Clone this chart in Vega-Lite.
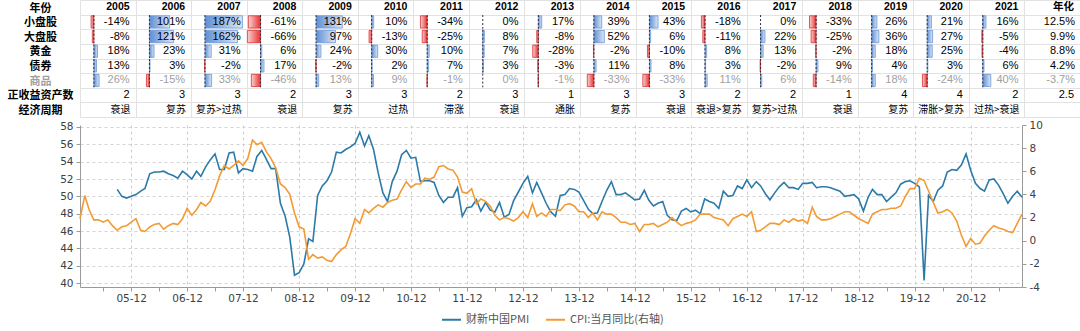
{
  "$schema": "https://vega.github.io/schema/vega-lite/v6.json",
  "padding": 0,
  "background": "white",
  "bounds": "flush",
  "spacing": 8,
  "config": {
    "view": {"stroke": null},
    "locale": {"number": {"decimal": ".", "thousands": ",", "grouping": [3], "currency": ["", ""], "minus": "-"}}
  },
  "datasets": {
    "tbl": [
      {"y":"2005","s":-0.14,"l":-0.08,"g":0.18,"b":0.13,"m":0.26,"n":2,"t":"衰退"},
      {"y":"2006","s":1.01,"l":1.21,"g":0.23,"b":0.03,"m":-0.15,"n":3,"t":"复苏"},
      {"y":"2007","s":1.87,"l":1.62,"g":0.31,"b":-0.02,"m":0.33,"n":3,"t":"复苏>过热"},
      {"y":"2008","s":-0.61,"l":-0.66,"g":0.06,"b":0.17,"m":-0.46,"n":2,"t":"衰退"},
      {"y":"2009","s":1.31,"l":0.97,"g":0.24,"b":-0.02,"m":0.13,"n":3,"t":"复苏"},
      {"y":"2010","s":0.10,"l":-0.13,"g":0.30,"b":0.02,"m":0.09,"n":3,"t":"过热"},
      {"y":"2011","s":-0.34,"l":-0.25,"g":0.10,"b":0.07,"m":-0.01,"n":2,"t":"滞涨"},
      {"y":"2012","s":0.00,"l":0.08,"g":0.07,"b":0.03,"m":0.00,"n":3,"t":"衰退"},
      {"y":"2013","s":0.17,"l":-0.08,"g":-0.28,"b":-0.03,"m":-0.01,"n":1,"t":"通胀"},
      {"y":"2014","s":0.39,"l":0.52,"g":-0.02,"b":0.11,"m":-0.33,"n":3,"t":"复苏"},
      {"y":"2015","s":0.43,"l":0.06,"g":-0.10,"b":0.08,"m":-0.33,"n":3,"t":"衰退"},
      {"y":"2016","s":-0.18,"l":-0.11,"g":0.08,"b":0.03,"m":0.11,"n":2,"t":"衰退>复苏"},
      {"y":"2017","s":0.00,"l":0.22,"g":0.13,"b":-0.02,"m":0.06,"n":2,"t":"复苏>过热"},
      {"y":"2018","s":-0.33,"l":-0.25,"g":-0.02,"b":0.09,"m":-0.14,"n":1,"t":"衰退"},
      {"y":"2019","s":0.26,"l":0.36,"g":0.18,"b":0.04,"m":0.18,"n":4,"t":"复苏"},
      {"y":"2020","s":0.21,"l":0.27,"g":0.25,"b":0.03,"m":-0.24,"n":4,"t":"滞胀>复苏"},
      {"y":"2021","s":0.16,"l":-0.05,"g":-0.04,"b":0.06,"m":0.40,"n":2,"t":"过热>衰退"},
      {"y":"年化","s":0.125,"l":0.099,"g":0.088,"b":0.042,"m":-0.037,"n":2.5,"t":""}
    ],
    "macro": [
      {"d":"2005-01-01","cpi":1.9},{"d":"2005-02-01","cpi":3.9},{"d":"2005-03-01","cpi":2.7},{"d":"2005-04-01","cpi":1.8},
      {"d":"2005-05-01","cpi":1.8},{"d":"2005-06-01","cpi":1.6},{"d":"2005-07-01","cpi":1.8},{"d":"2005-08-01","cpi":1.3},
      {"d":"2005-09-01","pmi":50.8,"cpi":0.9},{"d":"2005-10-01","pmi":50.0,"cpi":1.2},{"d":"2005-11-01","pmi":49.8,"cpi":1.3},{"d":"2005-12-01","pmi":50.0,"cpi":1.6},
      {"d":"2006-01-01","pmi":50.2,"cpi":1.9},{"d":"2006-02-01","pmi":50.6,"cpi":0.9},{"d":"2006-03-01","pmi":50.9,"cpi":0.8},{"d":"2006-04-01","pmi":52.6,"cpi":1.2},
      {"d":"2006-05-01","pmi":52.8,"cpi":1.4},{"d":"2006-06-01","pmi":52.8,"cpi":1.5},{"d":"2006-07-01","pmi":52.9,"cpi":1.0},{"d":"2006-08-01","pmi":52.6,"cpi":1.3},
      {"d":"2006-09-01","pmi":52.4,"cpi":1.5},{"d":"2006-10-01","pmi":52.1,"cpi":1.4},{"d":"2006-11-01","pmi":52.9,"cpi":1.9},{"d":"2006-12-01","pmi":52.5,"cpi":2.8},
      {"d":"2007-01-01","pmi":52.0,"cpi":2.2},{"d":"2007-02-01","pmi":52.9,"cpi":2.7},{"d":"2007-03-01","pmi":52.3,"cpi":3.3},{"d":"2007-04-01","pmi":53.4,"cpi":3.0},
      {"d":"2007-05-01","pmi":54.2,"cpi":3.4},{"d":"2007-06-01","pmi":54.9,"cpi":4.4},{"d":"2007-07-01","pmi":53.1,"cpi":5.6},{"d":"2007-08-01","pmi":53.1,"cpi":6.5},
      {"d":"2007-09-01","pmi":55.0,"cpi":6.2},{"d":"2007-10-01","pmi":55.1,"cpi":6.5},{"d":"2007-11-01","pmi":52.7,"cpi":6.9},{"d":"2007-12-01","pmi":53.2,"cpi":6.5},
      {"d":"2008-01-01","pmi":53.1,"cpi":7.1},{"d":"2008-02-01","pmi":52.9,"cpi":8.7},{"d":"2008-03-01","pmi":54.6,"cpi":8.3},{"d":"2008-04-01","pmi":55.3,"cpi":8.5},
      {"d":"2008-05-01","pmi":54.3,"cpi":7.7},{"d":"2008-06-01","pmi":53.2,"cpi":7.1},{"d":"2008-07-01","pmi":53.2,"cpi":6.3},{"d":"2008-08-01","pmi":49.2,"cpi":4.9},
      {"d":"2008-09-01","pmi":47.7,"cpi":4.6},{"d":"2008-10-01","pmi":45.3,"cpi":4.0},{"d":"2008-11-01","pmi":40.9,"cpi":2.4},{"d":"2008-12-01","pmi":41.2,"cpi":1.2},
      {"d":"2009-01-01","pmi":42.2,"cpi":1.0},{"d":"2009-02-01","pmi":45.1,"cpi":-1.6},{"d":"2009-03-01","pmi":44.8,"cpi":-1.2},{"d":"2009-04-01","pmi":50.1,"cpi":-1.5},
      {"d":"2009-05-01","pmi":51.2,"cpi":-1.4},{"d":"2009-06-01","pmi":51.8,"cpi":-1.7},{"d":"2009-07-01","pmi":52.8,"cpi":-1.8},{"d":"2009-08-01","pmi":55.1,"cpi":-1.2},
      {"d":"2009-09-01","pmi":55.0,"cpi":-0.8},{"d":"2009-10-01","pmi":55.4,"cpi":-0.5},{"d":"2009-11-01","pmi":55.7,"cpi":0.6},{"d":"2009-12-01","pmi":56.1,"cpi":1.9},
      {"d":"2010-01-01","pmi":57.4,"cpi":1.5},{"d":"2010-02-01","pmi":55.8,"cpi":2.7},{"d":"2010-03-01","pmi":57.0,"cpi":2.4},{"d":"2010-04-01","pmi":55.4,"cpi":2.8},
      {"d":"2010-05-01","pmi":52.7,"cpi":3.1},{"d":"2010-06-01","pmi":50.4,"cpi":2.9},{"d":"2010-07-01","pmi":49.4,"cpi":3.3},{"d":"2010-08-01","pmi":51.7,"cpi":3.5},
      {"d":"2010-09-01","pmi":52.9,"cpi":3.6},{"d":"2010-10-01","pmi":54.8,"cpi":4.4},{"d":"2010-11-01","pmi":55.3,"cpi":5.1},{"d":"2010-12-01","pmi":54.4,"cpi":4.6},
      {"d":"2011-01-01","pmi":54.5,"cpi":4.9},{"d":"2011-02-01","pmi":51.7,"cpi":4.9},{"d":"2011-03-01","pmi":51.8,"cpi":5.4},{"d":"2011-04-01","pmi":51.8,"cpi":5.3},
      {"d":"2011-05-01","pmi":51.6,"cpi":5.5},{"d":"2011-06-01","pmi":50.1,"cpi":6.4},{"d":"2011-07-01","pmi":49.3,"cpi":6.5},{"d":"2011-08-01","pmi":49.9,"cpi":6.2},
      {"d":"2011-09-01","pmi":49.9,"cpi":6.1},{"d":"2011-10-01","pmi":51.0,"cpi":5.5},{"d":"2011-11-01","pmi":47.7,"cpi":4.2},{"d":"2011-12-01","pmi":48.7,"cpi":4.1},
      {"d":"2012-01-01","pmi":48.8,"cpi":4.5},{"d":"2012-02-01","pmi":49.6,"cpi":3.2},{"d":"2012-03-01","pmi":48.3,"cpi":3.6},{"d":"2012-04-01","pmi":49.3,"cpi":3.4},
      {"d":"2012-05-01","pmi":48.4,"cpi":3.0},{"d":"2012-06-01","pmi":48.2,"cpi":2.2},{"d":"2012-07-01","pmi":49.3,"cpi":1.8},{"d":"2012-08-01","pmi":47.6,"cpi":2.0},
      {"d":"2012-09-01","pmi":47.9,"cpi":1.9},{"d":"2012-10-01","pmi":49.5,"cpi":1.7},{"d":"2012-11-01","pmi":50.5,"cpi":2.0},{"d":"2012-12-01","pmi":51.5,"cpi":2.5},
      {"d":"2013-01-01","pmi":52.3,"cpi":2.0},{"d":"2013-02-01","pmi":50.4,"cpi":3.2},{"d":"2013-03-01","pmi":51.6,"cpi":2.1},{"d":"2013-04-01","pmi":50.4,"cpi":2.4},
      {"d":"2013-05-01","pmi":49.2,"cpi":2.1},{"d":"2013-06-01","pmi":48.2,"cpi":2.7},{"d":"2013-07-01","pmi":47.7,"cpi":2.7},{"d":"2013-08-01","pmi":50.1,"cpi":2.6},
      {"d":"2013-09-01","pmi":50.2,"cpi":3.1},{"d":"2013-10-01","pmi":50.9,"cpi":3.2},{"d":"2013-11-01","pmi":50.8,"cpi":3.0},{"d":"2013-12-01","pmi":50.5,"cpi":2.5},
      {"d":"2014-01-01","pmi":49.5,"cpi":2.5},{"d":"2014-02-01","pmi":48.5,"cpi":2.0},{"d":"2014-03-01","pmi":48.0,"cpi":2.4},{"d":"2014-04-01","pmi":48.1,"cpi":1.8},
      {"d":"2014-05-01","pmi":49.4,"cpi":2.5},{"d":"2014-06-01","pmi":50.7,"cpi":2.3},{"d":"2014-07-01","pmi":51.7,"cpi":2.3},{"d":"2014-08-01","pmi":50.2,"cpi":2.0},
      {"d":"2014-09-01","pmi":50.2,"cpi":1.6},{"d":"2014-10-01","pmi":50.4,"cpi":1.6},{"d":"2014-11-01","pmi":50.0,"cpi":1.4},{"d":"2014-12-01","pmi":49.6,"cpi":1.5},
      {"d":"2015-01-01","pmi":49.7,"cpi":0.8},{"d":"2015-02-01","pmi":50.7,"cpi":1.4},{"d":"2015-03-01","pmi":49.6,"cpi":1.4},{"d":"2015-04-01","pmi":48.9,"cpi":1.5},
      {"d":"2015-05-01","pmi":49.2,"cpi":1.2},{"d":"2015-06-01","pmi":49.4,"cpi":1.4},{"d":"2015-07-01","pmi":47.8,"cpi":1.6},{"d":"2015-08-01","pmi":47.3,"cpi":2.0},
      {"d":"2015-09-01","pmi":47.2,"cpi":1.6},{"d":"2015-10-01","pmi":48.3,"cpi":1.3},{"d":"2015-11-01","pmi":48.6,"cpi":1.5},{"d":"2015-12-01","pmi":48.2,"cpi":1.6},
      {"d":"2016-01-01","pmi":48.4,"cpi":1.8},{"d":"2016-02-01","pmi":48.0,"cpi":2.3},{"d":"2016-03-01","pmi":49.7,"cpi":2.3},{"d":"2016-04-01","pmi":49.4,"cpi":2.3},
      {"d":"2016-05-01","pmi":49.2,"cpi":2.0},{"d":"2016-06-01","pmi":48.6,"cpi":1.9},{"d":"2016-07-01","pmi":50.6,"cpi":1.8},{"d":"2016-08-01","pmi":50.0,"cpi":1.3},
      {"d":"2016-09-01","pmi":50.1,"cpi":1.9},{"d":"2016-10-01","pmi":51.2,"cpi":2.1},{"d":"2016-11-01","pmi":50.9,"cpi":2.3},{"d":"2016-12-01","pmi":51.9,"cpi":2.1},
      {"d":"2017-01-01","pmi":51.0,"cpi":2.5},{"d":"2017-02-01","pmi":51.7,"cpi":0.8},{"d":"2017-03-01","pmi":51.2,"cpi":0.9},{"d":"2017-04-01","pmi":50.3,"cpi":1.2},
      {"d":"2017-05-01","pmi":49.6,"cpi":1.5},{"d":"2017-06-01","pmi":50.4,"cpi":1.5},{"d":"2017-07-01","pmi":51.1,"cpi":1.4},{"d":"2017-08-01","pmi":51.6,"cpi":1.8},
      {"d":"2017-09-01","pmi":51.0,"cpi":1.6},{"d":"2017-10-01","pmi":51.0,"cpi":1.9},{"d":"2017-11-01","pmi":50.8,"cpi":1.7},{"d":"2017-12-01","pmi":51.5,"cpi":1.8},
      {"d":"2018-01-01","pmi":51.5,"cpi":1.5},{"d":"2018-02-01","pmi":51.6,"cpi":2.9},{"d":"2018-03-01","pmi":51.0,"cpi":2.1},{"d":"2018-04-01","pmi":51.1,"cpi":1.8},
      {"d":"2018-05-01","pmi":51.1,"cpi":1.8},{"d":"2018-06-01","pmi":51.0,"cpi":1.9},{"d":"2018-07-01","pmi":50.8,"cpi":2.1},{"d":"2018-08-01","pmi":50.6,"cpi":2.3},
      {"d":"2018-09-01","pmi":50.0,"cpi":2.5},{"d":"2018-10-01","pmi":50.1,"cpi":2.5},{"d":"2018-11-01","pmi":50.2,"cpi":2.2},{"d":"2018-12-01","pmi":49.7,"cpi":1.9},
      {"d":"2019-01-01","pmi":48.3,"cpi":1.7},{"d":"2019-02-01","pmi":49.9,"cpi":1.5},{"d":"2019-03-01","pmi":50.8,"cpi":2.3},{"d":"2019-04-01","pmi":50.2,"cpi":2.5},
      {"d":"2019-05-01","pmi":50.2,"cpi":2.7},{"d":"2019-06-01","pmi":49.4,"cpi":2.7},{"d":"2019-07-01","pmi":49.9,"cpi":2.8},{"d":"2019-08-01","pmi":50.4,"cpi":2.8},
      {"d":"2019-09-01","pmi":51.4,"cpi":3.0},{"d":"2019-10-01","pmi":51.7,"cpi":3.8},{"d":"2019-11-01","pmi":51.8,"cpi":4.5},{"d":"2019-12-01","pmi":51.5,"cpi":4.5},
      {"d":"2020-01-01","pmi":51.1,"cpi":5.4},{"d":"2020-02-01","pmi":40.3,"cpi":5.2},{"d":"2020-03-01","pmi":50.1,"cpi":4.3},{"d":"2020-04-01","pmi":49.4,"cpi":3.3},
      {"d":"2020-05-01","pmi":50.7,"cpi":2.4},{"d":"2020-06-01","pmi":51.2,"cpi":2.5},{"d":"2020-07-01","pmi":52.8,"cpi":2.7},{"d":"2020-08-01","pmi":53.1,"cpi":2.4},
      {"d":"2020-09-01","pmi":53.0,"cpi":1.7},{"d":"2020-10-01","pmi":53.6,"cpi":0.5},{"d":"2020-11-01","pmi":54.9,"cpi":-0.5},{"d":"2020-12-01","pmi":53.0,"cpi":0.2},
      {"d":"2021-01-01","pmi":51.5,"cpi":-0.3},{"d":"2021-02-01","pmi":50.9,"cpi":-0.2},{"d":"2021-03-01","pmi":50.6,"cpi":0.4},{"d":"2021-04-01","pmi":51.9,"cpi":0.9},
      {"d":"2021-05-01","pmi":52.0,"cpi":1.3},{"d":"2021-06-01","pmi":51.3,"cpi":1.1},{"d":"2021-07-01","pmi":50.3,"cpi":1.0},{"d":"2021-08-01","pmi":49.2,"cpi":0.8},
      {"d":"2021-09-01","pmi":50.0,"cpi":0.7},{"d":"2021-10-01","pmi":50.6,"cpi":1.5},{"d":"2021-11-01","pmi":49.9,"cpi":2.3}
    ]
  },
  "vconcat": [
    {
      "width": 1000,
      "height": 117,
      "data": {"name": "tbl"},
      "transform": [
        {"calculate": "indexof(['2005','2006','2007','2008','2009','2010','2011','2012','2013','2014','2015','2016','2017','2018','2019','2020','2021','年化'], datum.y)", "as": "c"}
      ],
      "encoding": {
        "x": {
          "field": "px", "type": "quantitative",
          "scale": {"domain": [0, 18], "nice": false, "zero": false},
          "axis": {"orient": "top", "values": [0,1,2,3,4,5,6,7,8,9,10,11,12,13,14,15,16,17,18], "title": null, "labels": false, "ticks": false, "domain": false, "grid": true, "gridColor": "#e2e2e2"}
        },
        "y": {
          "field": "py", "type": "quantitative",
          "scale": {"domain": [0, 8], "reverse": true, "nice": false, "zero": false},
          "axis": {
            "values": [0,1,2,3,4,5,6,7,8], "title": null, "domain": false, "ticks": false, "tickSize": 0,
            "grid": true, "gridColor": "#e2e2e2",
            "labelExpr": "datum.value < 8 ? ['年份','小盘股','大盘股','黄金','债券','商品','正收益资产数','经济周期'][datum.value] : ''",
            "labelOffset": 8, "labelAlign": "center", "labelBaseline": "middle", "labelPadding": 40,
            "labelFont": "Noto Sans CJK SC", "labelFontWeight": "bold", "labelFontSize": 11,
            "labelColor": {"condition": {"test": "datum.value == 5", "value": "#a0a0a0"}, "value": "#000000"},
            "labelOverlap": false, "labelFlush": false, "labelBound": false,
            "minExtent": 80, "maxExtent": 80
          }
        }
      },
      "layer": [
        {
          "transform": [
            {"filter": "datum.y != '年化'"},
            {"fold": ["s", "l", "g", "b", "m"], "as": ["k", "v"]},
            {"filter": "datum.v > 0"},
            {"calculate": "indexof(['y','s','l','g','b','m','n','t'], datum.k)", "as": "r"},
            {"calculate": "datum.c + 0.25", "as": "px"},
            {"calculate": "datum.c + 0.25 + datum.v * 0.36", "as": "px2"},
            {"calculate": "datum.r + 0.08", "as": "py"},
            {"calculate": "datum.r + 0.92", "as": "py2"}
          ],
          "mark": {
            "type": "rect",
            "fill": {"gradient": "linear", "x1": 0, "y1": 0, "x2": 1, "y2": 0, "stops": [{"offset": 0, "color": "#5f8fd4"}, {"offset": 1, "color": "#dde7f6"}]},
            "stroke": "#6b96d6", "strokeWidth": 0.8
          },
          "encoding": {"x2": {"field": "px2"}, "y2": {"field": "py2"}}
        },
        {
          "transform": [
            {"filter": "datum.y != '年化'"},
            {"fold": ["s", "l", "g", "b", "m"], "as": ["k", "v"]},
            {"filter": "datum.v < 0"},
            {"calculate": "indexof(['y','s','l','g','b','m','n','t'], datum.k)", "as": "r"},
            {"calculate": "datum.c + 0.25", "as": "px"},
            {"calculate": "datum.c + 0.25 + datum.v * 0.36", "as": "px2"},
            {"calculate": "datum.r + 0.08", "as": "py"},
            {"calculate": "datum.r + 0.92", "as": "py2"}
          ],
          "mark": {
            "type": "rect",
            "fill": {"gradient": "linear", "x1": 0, "y1": 0, "x2": 1, "y2": 0, "stops": [{"offset": 0, "color": "#f8d4d4"}, {"offset": 1, "color": "#e8302e"}]},
            "stroke": "#d83030", "strokeWidth": 0.8
          },
          "encoding": {"x2": {"field": "px2"}, "y2": {"field": "py2"}}
        },
        {
          "transform": [
            {"filter": "datum.y != '年化'"},
            {"fold": ["s", "l", "g", "b", "m"], "as": ["k", "v"]},
            {"calculate": "indexof(['y','s','l','g','b','m','n','t'], datum.k)", "as": "r"},
            {"calculate": "datum.c + 0.25", "as": "px"},
            {"calculate": "datum.r + 0.03", "as": "py"},
            {"calculate": "datum.r + 0.97", "as": "py2"}
          ],
          "mark": {"type": "rule", "color": "#2b2b3a", "strokeWidth": 1, "strokeDash": [2, 2]},
          "encoding": {"y2": {"field": "py2"}}
        },
        {
          "transform": [
            {"filter": "datum.y != '年化'"},
            {"fold": ["s", "l", "g", "b", "m"], "as": ["k", "v"]},
            {"calculate": "indexof(['y','s','l','g','b','m','n','t'], datum.k)", "as": "r"},
            {"calculate": "datum.c + 1", "as": "px"},
            {"calculate": "datum.r + 0.5", "as": "py"}
          ],
          "mark": {"type": "text", "align": "right", "baseline": "middle", "dx": -6, "font": "Liberation Sans", "fontSize": 11},
          "encoding": {
            "text": {"field": "v", "type": "quantitative", "format": ".0%"},
            "color": {"condition": {"test": "datum.k == 'm'", "value": "#a0a0a0"}, "value": "#000000"}
          }
        },
        {
          "transform": [
            {"filter": "datum.y == '年化'"},
            {"fold": ["s", "l", "g", "b", "m"], "as": ["k", "v"]},
            {"calculate": "indexof(['y','s','l','g','b','m','n','t'], datum.k)", "as": "r"},
            {"calculate": "datum.c + 1", "as": "px"},
            {"calculate": "datum.r + 0.5", "as": "py"}
          ],
          "mark": {"type": "text", "align": "right", "baseline": "middle", "dx": -5, "font": "Liberation Sans", "fontSize": 11},
          "encoding": {
            "text": {"field": "v", "type": "quantitative", "format": ".1%"},
            "color": {"condition": {"test": "datum.k == 'm'", "value": "#a0a0a0"}, "value": "#000000"}
          }
        },
        {
          "transform": [
            {"fold": ["y"], "as": ["k", "v"]},
            {"calculate": "indexof(['y','s','l','g','b','m','n','t'], datum.k)", "as": "r"},
            {"calculate": "datum.c + 1", "as": "px"},
            {"calculate": "datum.r + 0.5", "as": "py"}
          ],
          "mark": {"type": "text", "align": "right", "baseline": "middle", "dx": -6, "font": "Liberation Sans, Noto Sans CJK SC", "fontSize": 10.5, "fontWeight": "bold", "color": "#000000"},
          "encoding": {"text": {"field": "v", "type": "nominal"}}
        },
        {
          "transform": [
            {"fold": ["n"], "as": ["k", "v"]},
            {"calculate": "indexof(['y','s','l','g','b','m','n','t'], datum.k)", "as": "r"},
            {"calculate": "datum.c + 1", "as": "px"},
            {"calculate": "datum.r + 0.5", "as": "py"}
          ],
          "mark": {"type": "text", "align": "right", "baseline": "middle", "dx": -6, "font": "Liberation Sans", "fontSize": 11, "color": "#000000"},
          "encoding": {"text": {"field": "v", "type": "nominal"}}
        },
        {
          "transform": [
            {"fold": ["t"], "as": ["k", "v"]},
            {"filter": "datum.v != ''"},
            {"calculate": "indexof(['y','s','l','g','b','m','n','t'], datum.k)", "as": "r"},
            {"calculate": "datum.c + 1", "as": "px"},
            {"calculate": "datum.r + 0.5", "as": "py"}
          ],
          "mark": {"type": "text", "align": "right", "baseline": "middle", "dx": -5, "font": "Noto Sans CJK SC", "fontSize": 10, "color": "#000000"},
          "encoding": {"text": {"field": "v", "type": "nominal"}}
        }
      ]
    },
    {
      "width": 942,
      "height": 162,
      "data": {"name": "macro"},
      "layer": [
        {
          "mark": {"type": "line", "strokeWidth": 1.6},
          "encoding": {
            "x": {
              "field": "d", "type": "temporal",
              "scale": {"type": "utc", "domain": [{"year": 2005, "month": 1, "date": 1, "utc": true}, {"year": 2021, "month": 11, "date": 1, "utc": true}], "nice": false},
              "axis": {
                "title": null, "orient": "bottom",
                "values": [
                  {"year":2005,"month":12,"date":1,"utc":true},
                  {"year":2006,"month":12,"date":1,"utc":true},
                  {"year":2007,"month":12,"date":1,"utc":true},
                  {"year":2008,"month":12,"date":1,"utc":true},
                  {"year":2009,"month":12,"date":1,"utc":true},
                  {"year":2010,"month":12,"date":1,"utc":true},
                  {"year":2011,"month":12,"date":1,"utc":true},
                  {"year":2012,"month":12,"date":1,"utc":true},
                  {"year":2013,"month":12,"date":1,"utc":true},
                  {"year":2014,"month":12,"date":1,"utc":true},
                  {"year":2015,"month":12,"date":1,"utc":true},
                  {"year":2016,"month":12,"date":1,"utc":true},
                  {"year":2017,"month":12,"date":1,"utc":true},
                  {"year":2018,"month":12,"date":1,"utc":true},
                  {"year":2019,"month":12,"date":1,"utc":true},
                  {"year":2020,"month":12,"date":1,"utc":true}
                ],
                "labelExpr": "utcFormat(datum.value, '%y-%m')",
                "grid": true, "gridDash": [3, 3], "gridColor": "#cccccc",
                "domainColor": "#9a9a9a", "tickColor": "#9a9a9a", "tickSize": 4,
                "labelFont": "DejaVu Sans", "labelFontSize": 10.5, "labelColor": "#404040", "labelPadding": 2,
                "labelFlush": false, "labelOverlap": false
              }
            },
            "y": {
              "field": "pmi", "type": "quantitative",
              "scale": {"domain": [39.54, 58.23], "nice": false, "zero": false},
              "axis": {
                "title": null, "values": [40, 42, 44, 46, 48, 50, 52, 54, 56, 58],
                "grid": true, "gridDash": [3, 3], "gridColor": "#d2d2d2",
                "domainColor": "#9a9a9a", "tickColor": "#9a9a9a", "tickSize": 4,
                "labelFont": "DejaVu Sans", "labelFontSize": 10.5, "labelColor": "#404040", "labelPadding": 3,
                "labelFlush": false, "labelOverlap": false
              }
            },
            "color": {
              "datum": "财新中国PMI", "type": "nominal",
              "scale": {"domain": ["财新中国PMI", "CPI:当月同比(右轴)"], "range": ["#2c7aa8", "#f29b35"]},
              "legend": {
                "orient": "none", "legendX": 361, "legendY": 309, "direction": "horizontal", "title": null,
                "symbolType": "stroke", "symbolStrokeWidth": 2, "symbolSize": 361,
                "labelFont": "Noto Sans CJK SC", "labelFontSize": 11, "labelColor": "#555555",
                "columnPadding": 12
              }
            }
          }
        },
        {
          "mark": {"type": "line", "strokeWidth": 1.6},
          "encoding": {
            "x": {
              "field": "d", "type": "temporal",
              "scale": {"type": "utc", "domain": [{"year": 2005, "month": 1, "date": 1, "utc": true}, {"year": 2021, "month": 11, "date": 1, "utc": true}], "nice": false},
              "axis": {
                "title": null, "orient": "bottom",
                "values": [
                  {"year":2005,"month":6,"date":1,"utc":true},{"year":2006,"month":6,"date":1,"utc":true},
                  {"year":2007,"month":6,"date":1,"utc":true},{"year":2008,"month":6,"date":1,"utc":true},
                  {"year":2009,"month":6,"date":1,"utc":true},{"year":2010,"month":6,"date":1,"utc":true},
                  {"year":2011,"month":6,"date":1,"utc":true},{"year":2012,"month":6,"date":1,"utc":true},
                  {"year":2013,"month":6,"date":1,"utc":true},{"year":2014,"month":6,"date":1,"utc":true},
                  {"year":2015,"month":6,"date":1,"utc":true},{"year":2016,"month":6,"date":1,"utc":true},
                  {"year":2017,"month":6,"date":1,"utc":true},{"year":2018,"month":6,"date":1,"utc":true},
                  {"year":2019,"month":6,"date":1,"utc":true},{"year":2020,"month":6,"date":1,"utc":true},
                  {"year":2021,"month":6,"date":1,"utc":true}
                ],
                "labels": false, "grid": false, "domain": false,
                "tickColor": "#9a9a9a", "tickSize": 4,
                "minExtent": 0, "maxExtent": 0, "offset": 0
              }
            },
            "y": {
              "field": "cpi", "type": "quantitative",
              "scale": {"domain": [-4, 10], "nice": false, "zero": false},
              "axis": {
                "orient": "right", "title": null, "values": [-4, -2, 0, 2, 4, 6, 8, 10], "grid": false,
                "domainColor": "#9a9a9a", "tickColor": "#9a9a9a", "tickSize": 4,
                "labelFont": "DejaVu Sans", "labelFontSize": 10.5, "labelColor": "#404040", "labelPadding": 3,
                "labelFlush": false, "labelOverlap": false
              }
            },
            "color": {"datum": "CPI:当月同比(右轴)", "type": "nominal"}
          }
        }
      ],
      "resolve": {"scale": {"y": "independent", "x": "independent"}}
    }
  ]
}
